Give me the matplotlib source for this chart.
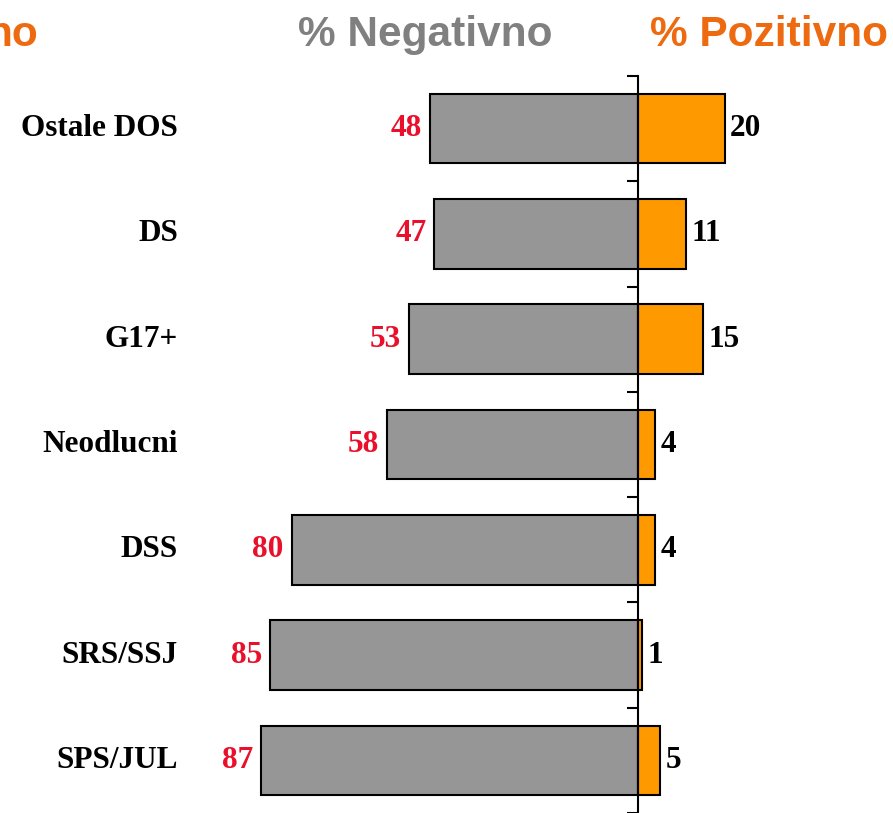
import matplotlib.pyplot as plt

# data
kategorije = ['Ostale DOS', 'DS', 'G17+', 'Neodlucni', 'DSS', 'SRS/SSJ', 'SPS/JUL']
negativno = [48, 47, 53, 58, 80, 85, 87]
pozitivno = [20, 11, 15, 4, 4, 1, 5]

fig = plt.figure(figsize=(8.93, 8.13), dpi=100)
fig.patch.set_facecolor('white')
ax = fig.add_axes([0, 0, 1, (813 - 76) / 813])

y = list(range(len(kategorije)))
neg_vals = [-v for v in negativno]

# bars
ax.barh(y, neg_vals, height=0.66, color='#969696', edgecolor='black', linewidth=1.5)
ax.barh(y, pozitivno, height=0.66, color='#FF9900', edgecolor='black', linewidth=1.5)

# value labels
for i in y:
    ax.text(neg_vals[i] - 1.8, i, str(negativno[i]), ha='right', va='center',
            fontsize=22.5, fontweight='bold', family='Liberation Serif', color='#E8102A')
    ax.text(pozitivno[i] + 1.3, i, str(pozitivno[i]), ha='left', va='center',
            fontsize=22.5, fontweight='bold', family='Liberation Serif', color='black')
    ax.text(178 / 893, i, kategorije[i], transform=ax.get_yaxis_transform(),
            ha='right', va='center', fontsize=22.5, fontweight='bold',
            family='Liberation Serif', color='black')

# axes
ax.set_xlim(-638 / 4.33, (893 - 638) / 4.33)
ax.set_ylim(len(kategorije) - 0.5, -0.5)
for s in ['top', 'right', 'bottom']:
    ax.spines[s].set_visible(False)
ax.spines['left'].set_position(('data', 0))
ax.spines['left'].set_linewidth(1.5)
ax.set_yticks([i - 0.5 for i in range(len(kategorije) + 1)])
ax.set_yticklabels([])
ax.tick_params(axis='y', direction='out', length=8, width=1.5)
ax.set_xticks([])
ax.set_facecolor('white')

# headers
fig.text(425 / 893, 1 - 35 / 813, '% Negativno', ha='center', va='center',
         fontsize=30.5, fontweight='bold', family='Liberation Sans', color='#808080')
fig.text(650 / 893, 1 - 35 / 813, '% Pozitivno', ha='left', va='center',
         fontsize=30.5, fontweight='bold', family='Liberation Sans', color='#EE6A10')
fig.text(38 / 893, 1 - 35 / 813, 'no', ha='right', va='center',
         fontsize=30.5, fontweight='bold', family='Liberation Sans', color='#EE6A10')

plt.savefig('out.png', dpi=100)
